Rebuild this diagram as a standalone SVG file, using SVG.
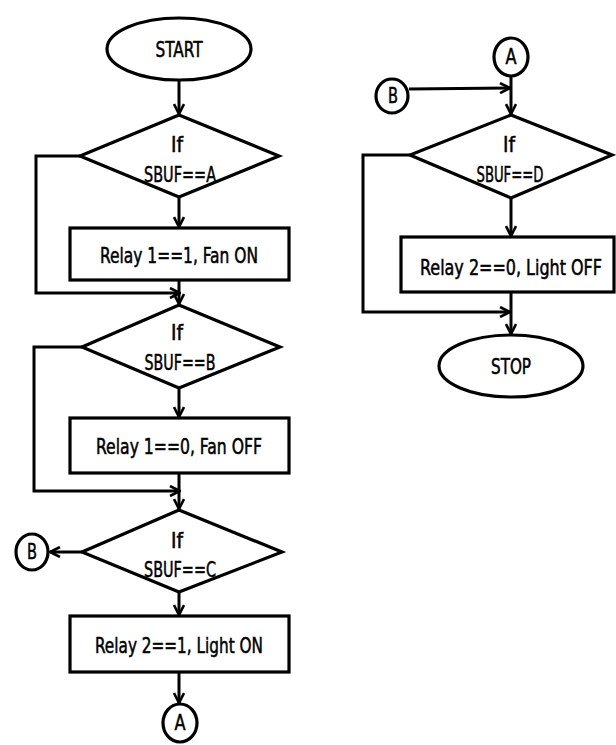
<svg xmlns="http://www.w3.org/2000/svg" width="616" height="745" viewBox="0 0 616 745">
<defs>
<marker id="arr" viewBox="0 0 12 12" refX="11" refY="6" markerWidth="12" markerHeight="12" markerUnits="userSpaceOnUse" orient="auto">
<path d="M1,1 L11,6 L1,11" fill="none" stroke="#000" stroke-width="2.6"/>
</marker>
<style>
.s{fill:#fff;stroke:#000;stroke-width:3.2}
.c{fill:none;stroke:#000;stroke-width:3}
.a{marker-end:url(#arr)}
text{font-family:"DejaVu Sans Condensed","DejaVu Sans",sans-serif;font-size:21px;fill:#000;stroke:#000;stroke-width:0.5;text-anchor:middle}
</style>
</defs>
<rect width="616" height="745" fill="#fff"/>
<g id="connectors">
<line class="c a" x1="179" y1="80" x2="179" y2="114"/>
<line class="c a" x1="179" y1="197" x2="179" y2="227"/>
<polyline class="c a" points="80,156 36,156 36,293 180,293"/>
<line class="c a" x1="179" y1="280" x2="179" y2="304"/>
<line class="c a" x1="179" y1="388" x2="179" y2="417"/>
<polyline class="c a" points="82,347 34,347 34,491 180,491"/>
<line class="c a" x1="179" y1="473" x2="179" y2="509"/>
<line class="c a" x1="179" y1="592" x2="179" y2="615"/>
<line class="c a" x1="82" y1="552" x2="50" y2="552"/>
<line class="c a" x1="179" y1="672" x2="179" y2="703"/>
<line class="c a" x1="511" y1="76" x2="511" y2="114"/>
<line class="c a" x1="409" y1="89" x2="510" y2="88"/>
<line class="c a" x1="511" y1="198" x2="511" y2="236"/>
<polyline class="c a" points="410,155 363,155 363,312 510,312"/>
<line class="c a" x1="511" y1="292" x2="511" y2="334"/>
</g>
<g id="start">
<ellipse class="s" cx="179" cy="49" rx="72" ry="31"/>
<text x="179" y="57" textLength="47" lengthAdjust="spacingAndGlyphs">START</text>
</g>
<g id="decA">
<polygon class="s" points="179,115 279,156 179,197 80,156"/>
<text x="177" y="152" textLength="12" lengthAdjust="spacingAndGlyphs">If</text>
<text x="180" y="182" textLength="72" lengthAdjust="spacingAndGlyphs">SBUF==A</text>
</g>
<g id="box1">
<rect class="s" x="70" y="228" width="219" height="52"/>
<text x="179" y="263" textLength="158" lengthAdjust="spacingAndGlyphs">Relay 1==1, Fan ON</text>
</g>
<g id="decB">
<polygon class="s" points="179,305 280,347 179,388 82,347"/>
<text x="177" y="340" textLength="12" lengthAdjust="spacingAndGlyphs">If</text>
<text x="180" y="370" textLength="71" lengthAdjust="spacingAndGlyphs">SBUF==B</text>
</g>
<g id="box2">
<rect class="s" x="70" y="418" width="219" height="55"/>
<text x="179" y="454" textLength="166" lengthAdjust="spacingAndGlyphs">Relay 1==0, Fan OFF</text>
</g>
<g id="decC">
<polygon class="s" points="179,510 282,552 179,592 82,552"/>
<text x="177" y="548" textLength="12" lengthAdjust="spacingAndGlyphs">If</text>
<text x="180" y="577" textLength="72" lengthAdjust="spacingAndGlyphs">SBUF==C</text>
</g>
<g id="box3">
<rect class="s" x="70" y="616" width="219" height="56"/>
<text x="179" y="653" textLength="168" lengthAdjust="spacingAndGlyphs">Relay 2==1, Light ON</text>
</g>
<g id="connB1">
<ellipse class="s" cx="32" cy="552" rx="16" ry="18"/>
<text x="32" y="559" textLength="10" lengthAdjust="spacingAndGlyphs">B</text>
</g>
<g id="connA1">
<ellipse class="s" cx="180" cy="723" rx="17" ry="19"/>
<text x="180" y="730" textLength="11" lengthAdjust="spacingAndGlyphs">A</text>
</g>
<g id="connA2">
<ellipse class="s" cx="511" cy="57" rx="17" ry="19"/>
<text x="511" y="64" textLength="11" lengthAdjust="spacingAndGlyphs">A</text>
</g>
<g id="connB2">
<ellipse class="s" cx="392" cy="96" rx="16" ry="17"/>
<text x="393" y="103" textLength="10" lengthAdjust="spacingAndGlyphs">B</text>
</g>
<g id="decD">
<polygon class="s" points="511,115 612,155 511,198 410,155"/>
<text x="509" y="152" textLength="12" lengthAdjust="spacingAndGlyphs">If</text>
<text x="510" y="182" textLength="67" lengthAdjust="spacingAndGlyphs">SBUF==D</text>
</g>
<g id="box4">
<rect class="s" x="401" y="237" width="213" height="55"/>
<text x="511" y="275" font-size="19" textLength="182" lengthAdjust="spacingAndGlyphs">Relay 2==0, Light OFF</text>
</g>
<g id="stop">
<ellipse class="s" cx="511" cy="366" rx="72" ry="31"/>
<text x="511" y="374" textLength="40" lengthAdjust="spacingAndGlyphs">STOP</text>
</g>
</svg>
